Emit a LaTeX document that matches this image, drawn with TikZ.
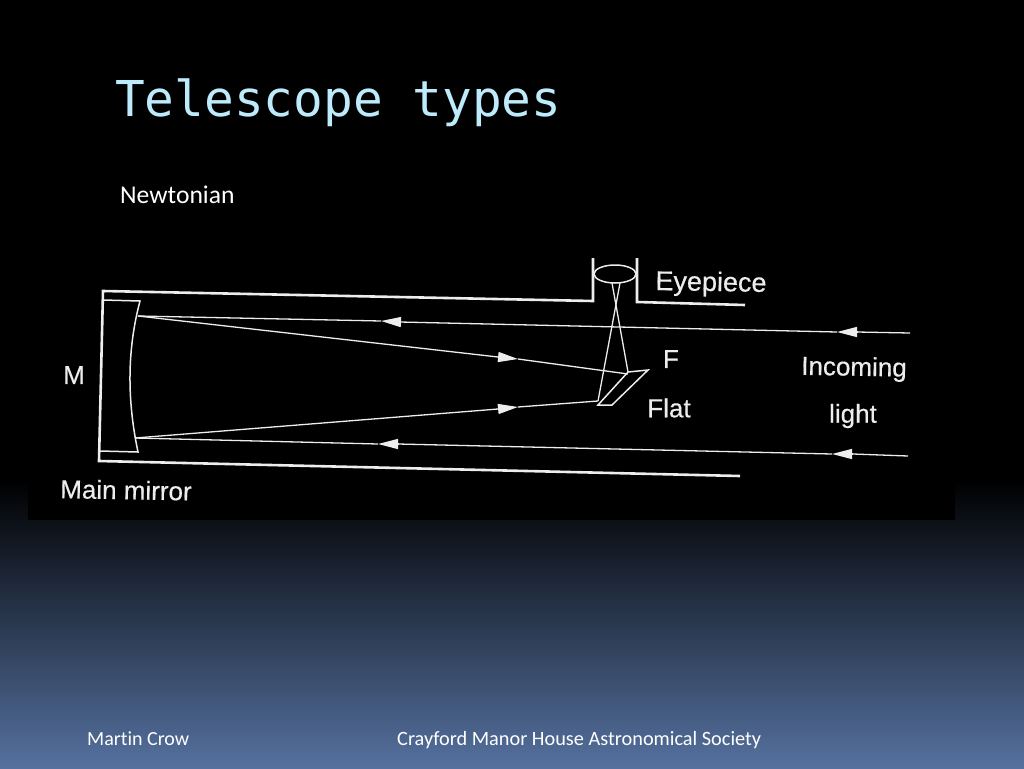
\documentclass[tikz,border=0pt]{standalone}
\usepackage{fontspec}
\setmainfont[Ligatures=NoCommon]{Carlito}
\newfontfamily\titlefont{DejaVu Sans Mono}
\newfontfamily\scanfont[FakeBold=0.4]{Liberation Sans}
\usetikzlibrary{arrows.meta}
\definecolor{titleblue}{HTML}{BDEBFB}
\definecolor{slideblue}{HTML}{55719F}
\definecolor{scanwhite}{HTML}{EDEDED}
\tikzset{
  tube/.style={draw=scanwhite,line width=2.6pt},
  thinpart/.style={draw=scanwhite,line width=1.5pt},
  ray/.style={draw=scanwhite,line width=1.3pt},
  raytip/.style={draw=scanwhite,line width=1.3pt,-{Triangle[length=20pt,width=10pt,fill=scanwhite]}},
  scanlabel/.style={text=scanwhite,font=\scanfont\fontsize{26}{30}\selectfont,inner sep=0pt},
  foot/.style={text=white,font=\fontsize{20}{24}\selectfont,inner sep=0pt,anchor=base west}
}
\begin{document}
\begin{tikzpicture}[x=1pt,y=-1pt]
\useasboundingbox (0,0) rectangle (1024,768);
% background
\fill[black] (0,0) rectangle (1024,768);
\shade[top color=black,bottom color=slideblue,draw=none] (0,480) rectangle (1024,768);
\fill[black] (28,230) rectangle (955,520);
% slide texts
\node[text=titleblue,font=\titlefont\fontsize{49.4}{55}\selectfont,inner sep=0pt,anchor=base west] (title) at (115,116) {Telescope types};
\node[text=white,font=\fontsize{25.6}{30}\selectfont,inner sep=0pt,anchor=base west] (kind) at (120,203) {Newtonian};
\node[foot] (author) at (87,745) {Martin Crow};
\node[foot,font=\fontsize{20.3}{24}\selectfont] (society) at (397,745) {Crayford Manor House Astronomical Society};
% tube
\coordinate (tubeTL) at (103,291);
\coordinate (tubeBL) at (99,461);
\coordinate (tubeBR) at (740,476);
\coordinate (neckL) at (593,301);
\coordinate (neckLtop) at (593,258);
\coordinate (neckR) at (637,302);
\coordinate (neckRtop) at (637,258);
\coordinate (tubeTR) at (745,305);
\draw[tube] (tubeBR) -- (tubeBL) -- (tubeTL) -- (neckL) -- (neckLtop);
\draw[tube] (neckRtop) -- (neckR) -- (tubeTR);
% mirror
\coordinate (mirT0) at (103,300);
\coordinate (mirT) at (140,301);
\coordinate (mirB) at (138,452);
\coordinate (mirB0) at (100,451);
\draw[thinpart] (mirT0) -- (mirT) .. controls (127,350) and (127,400) .. (mirB) -- (mirB0);
% lens and flat
\draw[thinpart] (615,274) ellipse [x radius=21,y radius=9];
\coordinate (flatA) at (598,405);
\coordinate (flatB) at (612,405);
\coordinate (flatC) at (648,370);
\coordinate (flatD) at (628,372);
\draw[thinpart] (flatA) -- (flatB) -- (flatC) -- (flatD) -- cycle;
% rays
\coordinate (inA) at (910,333);
\coordinate (inAtip) at (837,332);
\coordinate (inAnext) at (857,332);
\coordinate (inAmid) at (400,322);
\coordinate (inAmidtip) at (381,321);
\coordinate (hitA) at (138,316);
\coordinate (inB) at (908,456);
\coordinate (inBtip) at (832,454);
\coordinate (inBnext) at (853,454);
\coordinate (inBmid) at (398,444);
\coordinate (inBmidtip) at (378,444);
\coordinate (hitB) at (135,438);
\coordinate (upA) at (498,357);
\coordinate (upAtip) at (518,359);
\coordinate (focA) at (628,374);
\coordinate (upB) at (498,409);
\coordinate (upBtip) at (518,407);
\coordinate (focB) at (598,401);
\coordinate (eyeL) at (612,283);
\coordinate (eyeR) at (620,283);
\path[every edge/.append style={ray}]
      (inA) edge (inAnext) (inAtip) edge (inAmid) (inAmidtip) edge (hitA)
      (inB) edge (inBnext) (inBtip) edge (inBmid) (inBmidtip) edge (hitB)
      (hitA) edge (upA) (upAtip) edge (focA)
      (hitB) edge (upB) (upBtip) edge (focB)
      (flatD) edge (eyeL) (focB) edge (eyeR);
\path[every edge/.append style={raytip}]
      (inAnext) edge (inAtip) (inAmid) edge (inAmidtip)
      (inBnext) edge (inBtip) (inBmid) edge (inBmidtip)
      (upA) edge (upAtip) (upB) edge (upBtip);
% labels
\node[scanlabel,font=\scanfont\fontsize{27}{30}\selectfont,rotate=-1] (eyepiece) at (711,284) {Eyepiece};
\node[scanlabel] (focus) at (671,359) {F};
\node[scanlabel] (flat) at (669,408) {Flat};
\node[scanlabel,rotate=-1] (incoming) at (854,369) {Incoming};
\node[scanlabel] (light) at (853,416) {light};
\node[scanlabel] (mlabel) at (74,375) {M};
\node[scanlabel,rotate=-1] (mainmirror) at (126,490) {Main mirror};
\end{tikzpicture}
\end{document}
